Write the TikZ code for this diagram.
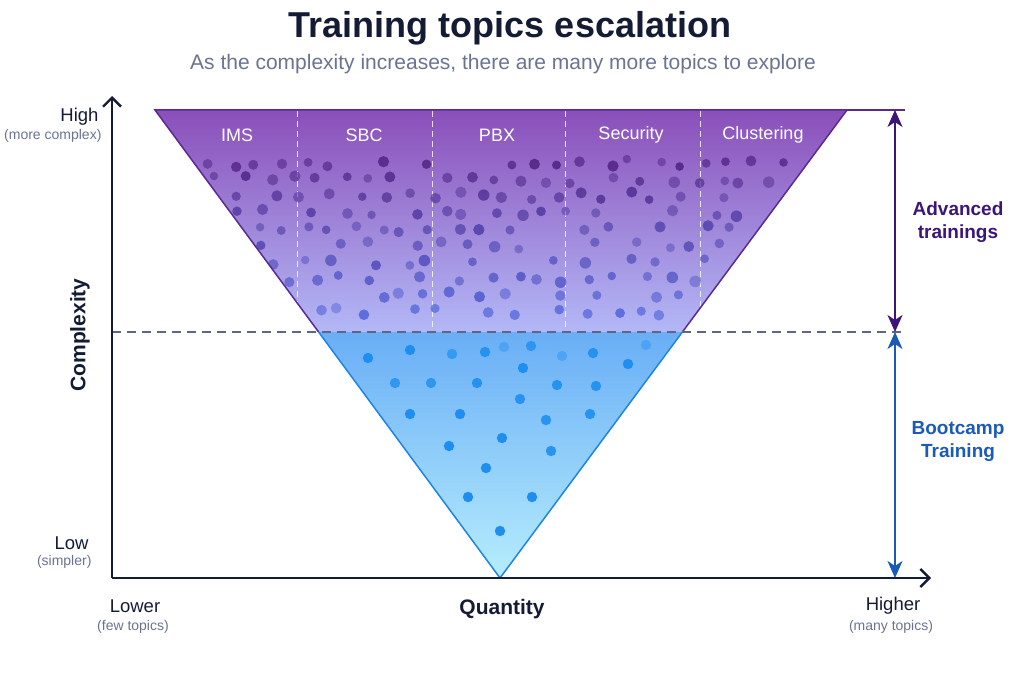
\documentclass[tikz,border=0pt]{standalone}
\usepackage{fontspec}
\setmainfont{Liberation Sans}
\usepackage{xcolor}
\usetikzlibrary{arrows.meta, positioning}
\definecolor{navy}{HTML}{141B34}
\definecolor{greyblue}{HTML}{6A7390}
\definecolor{advpurple}{HTML}{3B1578}
\definecolor{bootblue}{HTML}{1A5BB5}
\definecolor{topviolet}{HTML}{8A4FB9}
\definecolor{midlavender}{HTML}{B3B8F7}
\definecolor{midblue}{HTML}{69AEF6}
\definecolor{lowcyan}{HTML}{B6EDFD}
\definecolor{edgeviolet}{HTML}{5A2A92}
\definecolor{edgeblue}{HTML}{1E84E8}
\definecolor{dotpurple}{HTML}{542685}
\definecolor{dotblue}{HTML}{5878F0}
\definecolor{lowdot}{HTML}{1E8EF0}
\tikzset{
  titletext/.style={font=\fontsize{36}{40}\selectfont\bfseries, text=navy},
  subtext/.style={font=\fontsize{21}{24}\selectfont, text=greyblue},
  topiclabel/.style={font=\fontsize{18}{20}\selectfont, text=white},
  axisname/.style={font=\fontsize{21}{24}\selectfont\bfseries, text=navy},
  levellabel/.style={font=\fontsize{18.5}{20}\selectfont, text=navy},
  levelnote/.style={font=\fontsize{14}{16}\selectfont, text=greyblue},
  sidelabel/.style={font=\fontsize{19}{23}\selectfont\bfseries, align=center},
  axis/.style={-{Straight Barb[length=9pt,width=18pt,line width=2.4pt]}, line width=2.2pt, draw=navy},
  span/.style={{Stealth[length=17pt,width=15pt,inset=5pt]}-{Stealth[length=17pt,width=15pt,inset=5pt]}, line width=1.8pt},
  divider/.style={white, dash pattern=on 6pt off 4pt, line width=1pt, opacity=0.8},
  levelline/.style={dash pattern=on 9pt off 6pt, line width=1.3pt, draw=greyblue!85!navy}
}

\begin{document}
\begin{tikzpicture}[x=1pt, y=-1pt]
\useasboundingbox (0,0) rectangle (1024,682);

% Geometry
\coordinate (origin) at (112,578);
\coordinate (ytip) at (112,96);
\coordinate (xtip) at (931,578);
\coordinate (tl) at (155,110);
\coordinate (tr) at (847,110);
\coordinate (apex) at (500,578);
\coordinate (ml) at (318.6,332);
\coordinate (mr) at (682.4,332);
\coordinate (levelstart) at (112,332);
\coordinate (levelend) at (905,332);
\coordinate (topend) at (905,110);
\coordinate (advtop) at (895,110);
\coordinate (advbot) at (895,332);
\coordinate (bootbot) at (895,578);

% Funnel fill
\shade[top color=topviolet, bottom color=midlavender] (tl) -- (tr) -- (mr) -- (ml) -- cycle;
\shade[top color=midblue, bottom color=lowcyan] (ml) -- (mr) -- (apex) -- cycle;

% Column dividers
\foreach \x in {297,432,565,700}
  \draw[divider] (\x,111) -- (\x,331);

% Topic dots (advanced part)
\pgfmathsetseed{7}
\begin{scope}
\clip (tl) -- (tr) -- (mr) -- (ml) -- cycle;
\foreach \r in {0,...,9} {
  \pgfmathsetmacro\yy{163+\r*16.5}
  \pgfmathsetmacro\xl{155+(\yy-110)/468*345+12}
  \pgfmathtruncatemacro\nn{(847-(\yy-110)/468*347-12-\xl)/25}
  \pgfmathtruncatemacro\mix{100-\r*9}
  \foreach \c in {0,...,\nn} {
    \pgfmathtruncatemacro\keep{rnd<(0.9-\r*0.035)}
    \ifnum\keep=1
      \pgfmathsetmacro\xx{\xl+\c*25+rand*7}
      \pgfmathsetmacro\yj{\yy+rand*4}
      \pgfmathsetmacro\rr{4.2+rnd*1.6}
      \pgfmathsetmacro\op{0.5+rnd*0.45}
      \fill[dotpurple!\mix!dotblue, opacity=\op] (\xx,\yj) circle[radius=\rr pt];
    \fi
  }
}
\end{scope}

% Topic dots (bootcamp part)
\foreach \x/\y/\o in {368/358/1, 410/350/1, 452/354/0.7, 485/352/0.9, 504/347/0.4,
  531/346/0.8, 562/356/0.4, 593/353/0.9, 646/345/0.4, 628/364/1, 523/368/1,
  395/383/0.8, 431/383/0.8, 477/383/0.9, 557/385/0.9, 596/386/0.9, 520/399/0.9,
  410/414/1, 460/414/1, 546/420/0.9, 590/414/0.9, 502/438/1, 449/446/1,
  551/451/0.9, 486/468/1, 468/497/1, 532/497/1, 500/531/1}
  \fill[lowdot, opacity=\o] (\x,\y) circle[radius=5.2pt];

% Funnel edges
\draw[edgeviolet, line width=1.5pt] (ml) -- (tl) -- (tr) -- (mr);
\draw[edgeblue, line width=1.5pt] (ml) -- (apex) -- (mr);
\draw[edgeviolet, line width=1.2pt] (tr) -- (topend);
\draw[levelline] (levelstart) -- (levelend);

% Axes
\draw[axis] (origin) -- (ytip);
\draw[axis] (origin) -- (xtip);

% Spans
\draw[span, advpurple] (advtop) -- (advbot);
\draw[span, bootblue] (advbot) -- (bootbot);

% Nodes
\node[titletext] (title) at (510,28) {Training topics escalation};
\node[subtext] (subtitle) at (503,64) {As the complexity increases, there are many more topics to explore};

\node[topiclabel] (ims) at (237,135) {IMS};
\node[topiclabel] (sbc) at (364,135) {SBC};
\node[topiclabel] (pbx) at (497,135) {PBX};
\node[topiclabel] (security) at (631,135) {Security};
\node[topiclabel] (clustering) at (763,135) {Clustering};

\node[sidelabel, text=advpurple] (advanced) at (958,222) {Advanced\\trainings};
\node[sidelabel, text=bootblue] (bootcamp) at (958,441) {Bootcamp\\Training};

\node[levellabel, anchor=east] (high) at (102,117) {High};
\node[levelnote, anchor=east] (highnote) at (105,136) {(more complex)};
\node[levellabel, anchor=east] (low) at (92,543) {Low};
\node[levelnote, anchor=east] (lownote) at (95,562) {(simpler)};
\node[axisname, rotate=90] (complexity) at (80,335) {Complexity};

\node[levellabel] (lower) at (135,606) {Lower};
\node[levelnote] (lowernote) at (133,627) {(few topics)};
\node[axisname] (quantity) at (502,609) {Quantity};
\node[levellabel] (higher) at (893,606) {Higher};
\node[levelnote] (highernote) at (891,627) {(many topics)};

\end{tikzpicture}
\end{document}
